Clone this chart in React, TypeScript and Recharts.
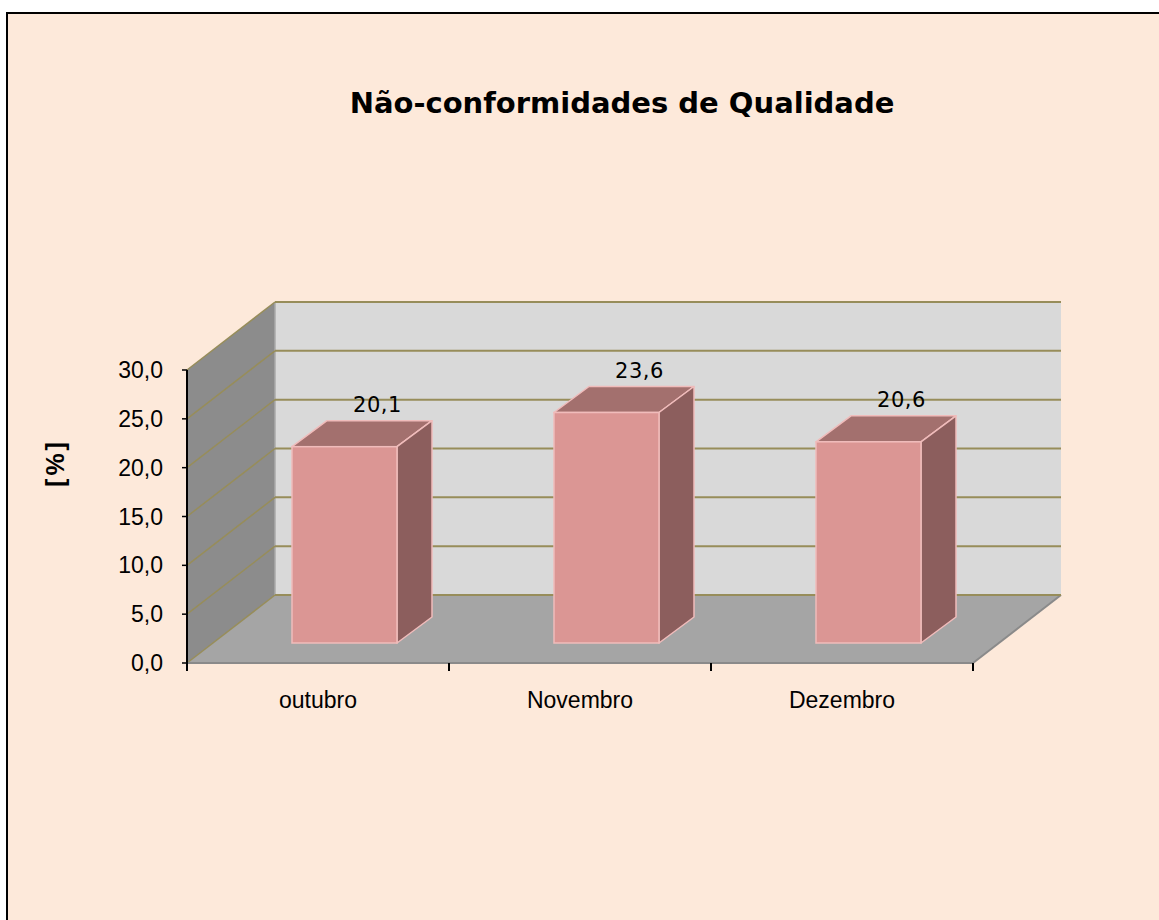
import { BarChart, Bar, XAxis, YAxis, CartesianGrid, LabelList } from "recharts";

const MONTHS = ["outubro", "Novembro", "Dezembro"];
const VALUES = [20.1, 23.6, 20.6];
const Y_TICKS = [0, 5, 10, 15, 20, 25, 30];

const W = 1159;
const H = 920;
// front plane of the 3D plot box
const PLOT_LEFT = 187;
const PLOT_TOP = 370;
const PLOT_RIGHT = 973;
const PLOT_BOTTOM = 663;
const Y_AXIS_W = 60;
const X_AXIS_H = 60;
// depth of walls / floor, and of the bars
const DX = 88;
const DY = -68;
const BAR_SHIFT_X = 26;
const BAR_SHIFT_Y = -20;
const BAR_DX = 35;
const BAR_DY = -26;

const GRID = "#978d5a";
const EDGE = "#f0bcbb";

const data = MONTHS.map((name, i) => ({ name, value: VALUES[i] }));
const fmt = (v: number) => v.toFixed(1).replace(".", ",");

function Box3D(props: any) {
  const { x, y, width, height } = props;
  const fx = x + BAR_SHIFT_X;
  const fy = y + BAR_SHIFT_Y;
  const fb = fy + height;
  const r = fx + width;
  return (
    <g>
      <polygon
        points={`${fx},${fy} ${fx + BAR_DX},${fy + BAR_DY} ${r + BAR_DX},${fy + BAR_DY} ${r},${fy}`}
        fill="#a3706e"
        stroke={EDGE}
        strokeWidth={1.5}
        strokeLinejoin="round"
      />
      <polygon
        points={`${r},${fy} ${r + BAR_DX},${fy + BAR_DY} ${r + BAR_DX},${fb + BAR_DY} ${r},${fb}`}
        fill="#8c5e5d"
        stroke={EDGE}
        strokeWidth={1.5}
        strokeLinejoin="round"
      />
      <rect x={fx} y={fy} width={width} height={height} fill="#db9694" stroke={EDGE} strokeWidth={1.5} />
    </g>
  );
}

function ValueLabel(props: any) {
  const { x, y, width, value } = props;
  return (
    <text
      x={x + width / 2 + 59}
      y={y - 55}
      textAnchor="middle"
      fontFamily="DejaVu Sans"
      fontSize={21}
      letterSpacing={0.5}
      fill="#000"
    >
      {fmt(Number(value))}
    </text>
  );
}

function gridLine(p: any) {
  const { x1, y1, x2 } = p;
  return (
    <g key={`grid-${y1}`}>
      <line x1={x1} y1={y1} x2={x1 + DX} y2={y1 + DY} stroke={GRID} strokeWidth={1.5} />
      <line x1={x1 + DX} y1={y1 + DY} x2={x2 + DX} y2={y1 + DY} stroke={GRID} strokeWidth={2} />
    </g>
  );
}

function CategoryTick(props: any) {
  const { x, payload, index } = props;
  const band = (PLOT_RIGHT - PLOT_LEFT) / MONTHS.length;
  return (
    <g>
      <line x1={x - band / 2} y1={PLOT_BOTTOM} x2={x - band / 2} y2={PLOT_BOTTOM + 8} stroke="#000" strokeWidth={2} />
      {index === MONTHS.length - 1 && (
        <line x1={x + band / 2} y1={PLOT_BOTTOM} x2={x + band / 2} y2={PLOT_BOTTOM + 8} stroke="#000" strokeWidth={2} />
      )}
      <text x={x} y={PLOT_BOTTOM + 45} textAnchor="middle" fontFamily="Liberation Sans" fontSize={23} fill="#000">
        {payload.value}
      </text>
    </g>
  );
}

function Walls() {
  return (
    <svg width={W} height={H} style={{ position: "absolute", left: 0, top: 0 }}>
      <rect x={7} y={13} width={W + 20} height={H + 20} fill="#fde9da" stroke="#000" strokeWidth={2} />
      <text x={622} y={113} textAnchor="middle" fontFamily="DejaVu Sans" fontWeight="bold" fontSize={29} fill="#000">
        Não-conformidades de Qualidade
      </text>
      <text
        transform="translate(64,463) rotate(-90)"
        textAnchor="middle"
        fontFamily="Liberation Sans"
        fontWeight="bold"
        fontSize={25}
        letterSpacing={3}
        fill="#000"
      >
        [%]
      </text>
      {/* back wall */}
      <rect x={PLOT_LEFT + DX} y={PLOT_TOP + DY} width={PLOT_RIGHT - PLOT_LEFT} height={PLOT_BOTTOM - PLOT_TOP} fill="#d9d9d9" />
      {/* side wall */}
      <polygon
        points={`${PLOT_LEFT},${PLOT_TOP} ${PLOT_LEFT + DX},${PLOT_TOP + DY} ${PLOT_LEFT + DX},${PLOT_BOTTOM + DY} ${PLOT_LEFT},${PLOT_BOTTOM}`}
        fill="#8c8c8c"
      />
      <line x1={PLOT_LEFT + DX} y1={PLOT_TOP + DY} x2={PLOT_LEFT + DX} y2={PLOT_BOTTOM + DY} stroke="#aaa" strokeWidth={1.5} />
      {/* floor */}
      <polygon
        points={`${PLOT_LEFT},${PLOT_BOTTOM} ${PLOT_LEFT + DX},${PLOT_BOTTOM + DY} ${PLOT_RIGHT + DX},${PLOT_BOTTOM + DY} ${PLOT_RIGHT},${PLOT_BOTTOM}`}
        fill="#a5a5a5"
      />
      <line x1={PLOT_RIGHT} y1={PLOT_BOTTOM} x2={PLOT_RIGHT + DX} y2={PLOT_BOTTOM + DY} stroke="#8a8a8a" strokeWidth={2} />
    </svg>
  );
}

export default function App() {
  return (
    <div style={{ position: "absolute", left: 0, top: 0, width: W, height: H, background: "#fff", overflow: "hidden" }}>
      <Walls />
      <div style={{ position: "absolute", left: 0, top: 0 }}>
        <BarChart
          width={W}
          height={H}
          data={data}
          margin={{
            top: PLOT_TOP,
            left: PLOT_LEFT - Y_AXIS_W,
            right: W - PLOT_RIGHT,
            bottom: H - PLOT_BOTTOM - X_AXIS_H,
          }}
          barCategoryGap={0}
        >
          <CartesianGrid vertical={false} horizontal={gridLine} />
          <XAxis
            dataKey="name"
            height={X_AXIS_H}
            interval={0}
            axisLine={{ stroke: "#8a8a8a", strokeWidth: 2 }}
            tickLine={false}
            tick={CategoryTick}
          />
          <YAxis
            width={Y_AXIS_W}
            domain={[0, 30]}
            ticks={Y_TICKS}
            interval={0}
            tickFormatter={fmt}
            axisLine={{ stroke: "#000", strokeWidth: 2 }}
            tickLine={{ stroke: "#000", strokeWidth: 1.5 }}
            tickSize={5}
            tickMargin={19}
            tick={{ fontFamily: "Liberation Sans", fontSize: 23, fill: "#000" }}
          />
          <Bar dataKey="value" barSize={105} shape={Box3D} isAnimationActive={false}>
            <LabelList dataKey="value" content={ValueLabel} />
          </Bar>
        </BarChart>
      </div>
    </div>
  );
}
